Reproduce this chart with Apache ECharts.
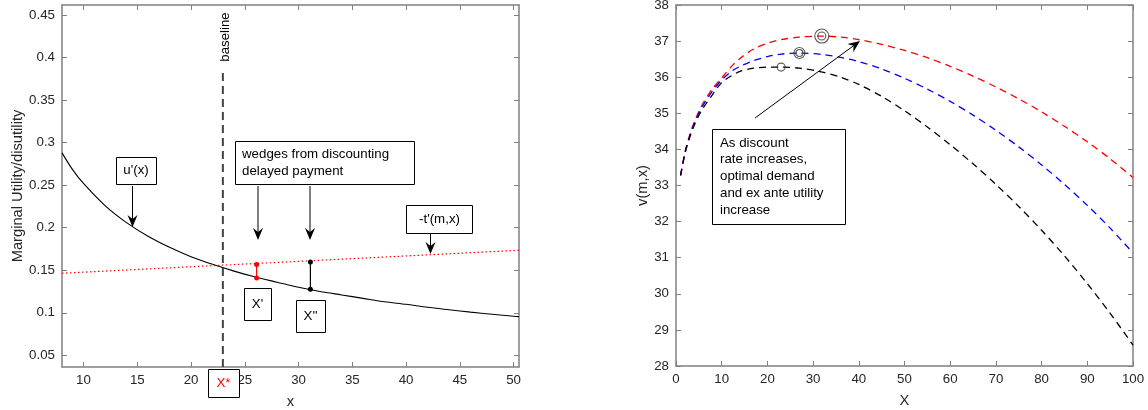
<!DOCTYPE html>
<html>
<head>
<meta charset="utf-8">
<script src="https://cdn.jsdelivr.net/npm/echarts@6/dist/echarts.min.js"></script>
<style>
  html, body { margin: 0; padding: 0; background: #fff; }
  #main { width: 1148px; height: 410px; }
</style>
</head>
<body>
<div id="main"></div>
<script>
// left panel: marginal utility / disutility
const uX = [8, 9, 10, 12, 14, 16, 18, 20, 22, 24, 26, 28, 30, 32, 34, 36, 38, 40, 42, 44, 46, 48, 50, 50.5];
const uY = [0.288, 0.268, 0.252, 0.226, 0.206, 0.190, 0.177, 0.166, 0.157, 0.149, 0.142, 0.136, 0.130, 0.125,
  0.121, 0.117, 0.113, 0.110, 0.1065, 0.1036, 0.1008, 0.0983, 0.0959, 0.0955];
const tX = [8, 50.5];
const tY = [0.1465, 0.1735];
const baselineX = 22.96;
const baselineTop = 0.382;
const wedgeRed = [[26.1, 0.141], [26.1, 0.1567]];
const wedgeBlack = [[31.1, 0.1276], [31.1, 0.1597]];
const leftXTicks = [10, 15, 20, 25, 30, 35, 40, 45, 50];
const leftYTicks = [0.05, 0.1, 0.15, 0.2, 0.25, 0.3, 0.35, 0.4, 0.45];

// right panel: v(m,x) for three discount rates
const vX = [1, 2, 3, 4, 5, 6, 8, 10, 12, 14, 17, 20, 23, 27, 32, 36, 40, 45, 50, 55, 60, 65, 70, 75, 80, 85, 90, 95, 100];
const vBlack = [33.28, 33.9, 34.33, 34.67, 34.94, 35.16, 35.52, 35.85, 36.03, 36.16, 36.25, 36.28, 36.28, 36.25, 36.14,
  36.0, 35.8, 35.47, 35.07, 34.62, 34.13, 33.6, 33.03, 32.42, 31.76, 31.05, 30.28, 29.46, 28.58];
const vBlue = [33.28, 33.92, 34.37, 34.72, 35.0, 35.24, 35.62, 35.92, 36.15, 36.3, 36.46, 36.57, 36.64, 36.67, 36.63,
  36.55, 36.43, 36.23, 35.97, 35.67, 35.33, 34.95, 34.53, 34.07, 33.57, 33.03, 32.45, 31.82, 31.13];
const vRed = [33.28, 33.95, 34.4, 34.76, 35.05, 35.3, 35.68, 35.98, 36.28, 36.52, 36.78, 36.94, 37.04, 37.11, 37.14,
  37.11, 37.04, 36.91, 36.74, 36.54, 36.3, 36.03, 35.73, 35.4, 35.04, 34.64, 34.21, 33.74, 33.22];
const peakBlack = [23, 36.28];
const peakBlue = [27, 36.67];
const peakRed = [31.9, 37.14];

const FONT = 'Liberation Sans, Arial, sans-serif';
const AXIS_COLOR = '#808080';
const LABEL_COLOR = '#262626';

const zip = (xs, ys) => xs.map((x, i) => [x, ys[i]]);

function axisBase (grid, pos, opts) {
  const showLabel = pos === 'bottom' || pos === 'left';
  const a = {
    type: 'value',
    gridIndex: grid,
    position: pos,
    min: opts.min,
    max: opts.max,
    axisLine: { show: true, onZero: false, lineStyle: { color: AXIS_COLOR, width: 1.5 } },
    axisTick: { show: true, inside: true, length: 5, lineStyle: { color: AXIS_COLOR, width: 1 } },
    axisLabel: { show: showLabel, color: LABEL_COLOR, fontSize: 13.3, fontFamily: FONT, margin: 7 },
    splitLine: { show: false }
  };
  if (opts.ticks) {
    a.axisTick.customValues = opts.ticks;
    a.axisLabel.customValues = opts.ticks;
  } else {
    a.interval = opts.interval;
  }
  if (showLabel && opts.name) {
    a.name = opts.name;
    a.nameLocation = 'middle';
    a.nameGap = opts.nameGap;
    a.nameTextStyle = { color: LABEL_COLOR, fontSize: 14.7, fontFamily: FONT };
  }
  return a;
}

// arrow with a notched (vback) head
function arrow (x1, y1, x2, y2) {
  const dx = x2 - x1, dy = y2 - y1;
  const len = Math.hypot(dx, dy);
  const ux = dx / len, uy = dy / len;
  const L = 12, W = 5, N = 8;
  const bx = x2 - ux * L, by = y2 - uy * L;
  const nx = x2 - ux * N, ny = y2 - uy * N;
  const px = -uy, py = ux;
  return [
    { type: 'line', z: 100, shape: { x1, y1, x2: nx, y2: ny }, style: { stroke: '#000', lineWidth: 1 } },
    { type: 'polygon', z: 100, shape: { points: [[x2, y2], [bx + px * W, by + py * W], [nx, ny], [bx - px * W, by - py * W]] },
      style: { fill: '#000' } }
  ];
}

function box (x, y, w, h) {
  return { type: 'rect', z: 100, shape: { x: x + 0.5, y: y + 0.5, width: w, height: h },
    style: { fill: '#fff', stroke: '#000', lineWidth: 1 } };
}

function label (text, x, y, align, color) {
  return { type: 'text', z: 101, style: { text, x, y, fill: color || '#000', fontSize: 13.3, fontFamily: FONT,
    align: align || 'center', verticalAlign: 'middle', lineHeight: 16.8 } };
}

const graphics = [
  // left panel annotations
  box(116, 157, 40, 27), label("u'(x)", 136, 170.5),
  ...arrow(132.5, 186, 132.5, 227),
  box(235, 141, 179, 43), label('wedges from discounting\ndelayed payment', 242, 162.5, 'left'),
  ...arrow(258, 186, 258, 240),
  ...arrow(310, 186, 310, 240),
  box(406, 205, 66, 28), label("-t'(m,x)", 439.5, 219),
  ...arrow(430.5, 234, 430.5, 254),
  box(244, 288, 27, 32), label("X'", 257.5, 304),
  box(296, 300, 29, 32), label("X''", 310.5, 316),
  box(208, 369, 31, 28), label('X*', 223.5, 383, 'center', '#ff0000'),
  { type: 'text', z: 101, x: 225, y: 37, rotation: Math.PI / 2,
    style: { text: 'baseline', fill: '#000', fontSize: 13.3, fontFamily: FONT, align: 'center', verticalAlign: 'middle' } },
  // right panel annotation
  box(712, 129, 133, 95),
  label('As discount\nrate increases,\noptimal demand\nand ex ante utility\nincrease', 720, 176.5, 'left'),
  ...arrow(755, 118, 860, 41)
];

const ring = (pt, size) => ({
  type: 'scatter', xAxisIndex: 2, yAxisIndex: 2, data: [pt], symbol: 'circle', symbolSize: size, z: 5,
  itemStyle: { color: 'rgba(0,0,0,0)', borderColor: '#333', borderWidth: 1.1 }, silent: true
});

const dashed = (ys, color) => ({
  type: 'line', xAxisIndex: 2, yAxisIndex: 2, data: zip(vX, ys), smooth: 0.3, showSymbol: false,
  lineStyle: { color, width: 1.3, type: [7, 5] }
});

const option = {
  animation: false,
  backgroundColor: '#fff',
  grid: [
    { left: 62, top: 5, width: 457, height: 362, outerBoundsMode: 'none', containLabel: false },
    { left: 676, top: 5, width: 457, height: 361, outerBoundsMode: 'none', containLabel: false }
  ],
  xAxis: [
    axisBase(0, 'bottom', { min: 8, max: 50.5, ticks: leftXTicks, name: 'x', nameGap: 27 }),
    axisBase(0, 'top', { min: 8, max: 50.5, ticks: leftXTicks }),
    axisBase(1, 'bottom', { min: 0, max: 100, interval: 10, name: 'X', nameGap: 27 }),
    axisBase(1, 'top', { min: 0, max: 100, interval: 10 })
  ],
  yAxis: [
    axisBase(0, 'left', { min: 0.0363, max: 0.4618, ticks: leftYTicks, name: 'Marginal Utility/disutility', nameGap: 37 }),
    axisBase(0, 'right', { min: 0.0363, max: 0.4618, ticks: leftYTicks }),
    axisBase(1, 'left', { min: 28, max: 38, interval: 1, name: 'v(m,x)', nameGap: 24 }),
    axisBase(1, 'right', { min: 28, max: 38, interval: 1 })
  ],
  series: [
    {
      type: 'line', xAxisIndex: 0, yAxisIndex: 0, data: [[baselineX, 0.0363], [baselineX, baselineTop]],
      showSymbol: false, lineStyle: { color: '#444', width: 2, type: [8, 5] }
    },
    {
      type: 'line', xAxisIndex: 0, yAxisIndex: 0, data: zip(uX, uY), smooth: 0.3, showSymbol: false,
      lineStyle: { color: '#000', width: 1.1 }
    },
    {
      type: 'line', xAxisIndex: 0, yAxisIndex: 0, data: zip(tX, tY), showSymbol: false,
      lineStyle: { color: '#ff0000', width: 1.2, type: [1.5, 2.5] }
    },
    {
      type: 'line', xAxisIndex: 0, yAxisIndex: 0, data: wedgeRed, symbol: 'circle', symbolSize: 5, showSymbol: true,
      lineStyle: { color: '#ff0000', width: 1.2 }, itemStyle: { color: '#ff0000' }
    },
    {
      type: 'line', xAxisIndex: 0, yAxisIndex: 0, data: wedgeBlack, symbol: 'circle', symbolSize: 5, showSymbol: true,
      lineStyle: { color: '#000', width: 1.2 }, itemStyle: { color: '#000' }
    },
    dashed(vRed, '#ff0000'),
    dashed(vBlue, '#0000ff'),
    dashed(vBlack, '#000000'),
    ring(peakBlack, 8),
    ring(peakBlue, 11), ring(peakBlue, 7),
    ring(peakRed, 14), ring(peakRed, 8)
  ],
  graphic: graphics
};

const chart = echarts.init(document.getElementById('main'), null, { renderer: 'canvas' });
chart.setOption(option);
</script>
</body>
</html>
